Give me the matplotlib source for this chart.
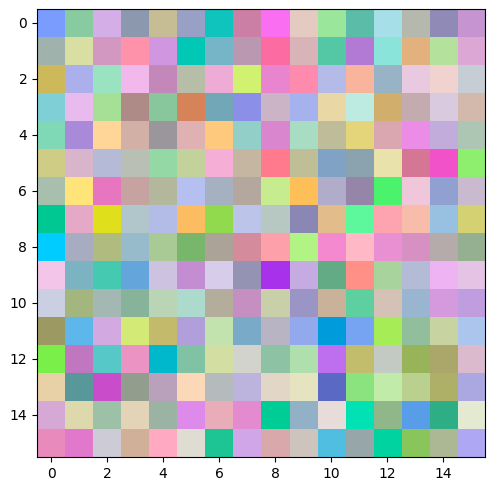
import matplotlib
matplotlib.use("Agg")
import matplotlib.pyplot as plt
import matplotlib.colors as mcolors
import numpy as np

# cell colours, one list per row (top to bottom)
row0 = ["#7a9cff", "#88cba0", "#d4aee6", "#8b98ae", "#c6bd94", "#98a0c6", "#0ec4bd", "#cc7fa4",
        "#fa6ff2", "#e4cac0", "#9ae69b", "#5bbca7", "#a6dfe7", "#b5b9ad", "#8f8ab6", "#c594d1"]
row1 = ["#9fb2ab", "#d9dfa2", "#d398c2", "#fe92ab", "#d097e0", "#00c8b5", "#76b4c7", "#bb98b2",
        "#fd6ba3", "#d8b4b8", "#54c8a4", "#b27ad4", "#8be4d9", "#e2b17e", "#b4e29d", "#dca6d5"]
row2 = ["#cdb85a", "#abb0ed", "#9ae3c0", "#f3b8eb", "#c387b9", "#b7bea8", "#eeabd6", "#d0f270",
        "#e985cf", "#fe8bad", "#b4bbe8", "#f8b49c", "#98b3c5", "#e8c9df", "#f0d3cf", "#c6cdd4"]
row3 = ["#7fcfd6", "#e8baed", "#a6df96", "#ae8b87", "#88c79b", "#d68359", "#71a7b6", "#8b8fe8",
        "#cab4c6", "#a6b2ee", "#ead7a6", "#bdebe2", "#d2ae6c", "#c4abb0", "#dacae0", "#d3b8ac"]
row4 = ["#7fd8b6", "#a98ad9", "#ffd598", "#d3b0a6", "#9a969b", "#dfb1b3", "#fec97c", "#92cfc8",
        "#d986cf", "#a8ddc4", "#bfbd99", "#e4d57b", "#daa7b1", "#eb8de7", "#c1acdb", "#adc6b4"]
row5 = ["#cfcd85", "#d9b5cc", "#b5bbd6", "#babfb5", "#94d9a5", "#c3d29b", "#f5aed5", "#c4b6a0",
        "#fe7a8c", "#bfbe96", "#80a2c4", "#8ba2af", "#e9e2ab", "#d57695", "#f152c9", "#8def6d"]
row6 = ["#a9bfad", "#ffe47a", "#e875bf", "#c6a2a0", "#b3b89c", "#b6c0f0", "#a5b0c1", "#b3a79e",
        "#c7ec90", "#febe58", "#b2accb", "#9585a9", "#4bf26b", "#f0c7da", "#8fa0d1", "#c9bad0"]
row7 = ["#00c892", "#e6a8c7", "#dfe01b", "#b1c6cb", "#b3bce6", "#fcbd62", "#92da4d", "#bcc4ea",
        "#b6c8c1", "#8b87b5", "#e3bc8c", "#5cf89b", "#fea4b1", "#f8bdaa", "#98c0e0", "#d4d172"]
row8 = ["#00ccff", "#a8acc0", "#b0bb80", "#97bbca", "#a9ca94", "#77b66b", "#aba398", "#d48c9c",
        "#fea0aa", "#b2f385", "#f489d0", "#ffb8c5", "#e990d2", "#d691c2", "#b5abab", "#95b091"]
row9 = ["#f3c6e9", "#7bb3c3", "#45cab1", "#64a6db", "#cdc2e0", "#c48dd2", "#d7cdea", "#9593b4",
        "#a831eb", "#c5abe2", "#62ab84", "#fe9088", "#a9d39c", "#b3bbd6", "#edb3f2", "#e5c3e4"]
row10 = ["#cacfe1", "#a3b67d", "#a3b8b2", "#88b39b", "#bad4b6", "#acdacd", "#b4ad9b", "#c68fc1",
         "#c9cfa9", "#9b95c6", "#cab29a", "#5ed09f", "#d4c2b7", "#99b5d0", "#d59ade", "#bf9ddf"]
row11 = ["#9c9a62", "#5db7ea", "#d2a9e1", "#d4ea76", "#c3bb6b", "#b19fdb", "#c2e3ad", "#79abc9",
         "#b9b4c3", "#93a9ee", "#009bdb", "#76a4f2", "#a6ec57", "#91bf9c", "#c7d4a1", "#abc5ec"]
row12 = ["#7bef49", "#c077bf", "#57c8c8", "#eb93c2", "#00b8cc", "#7fc2a4", "#d3dea3", "#d1d3cc",
         "#8ec2a4", "#b0dfae", "#be6ff0", "#c2bd6c", "#c3c9c3", "#98b459", "#aba76a", "#dbbacd"]
row13 = ["#e8d1a6", "#58989a", "#c94dca", "#939d8e", "#b9a1bb", "#fbd8b8", "#b5bbbc", "#bcb4dd",
         "#e2d7c7", "#e6e3c0", "#5a69c4", "#8ae37e", "#c0eba8", "#bad08e", "#adb066", "#aba7e1"]
row14 = ["#d5a8d6", "#ded8ad", "#9cc1a6", "#e3d3b7", "#9bb3a3", "#de8aeb", "#e8adb8", "#e38bce",
         "#00cc95", "#93b1c6", "#e8dcda", "#00e2b3", "#8fb789", "#589de8", "#2eae85", "#e4ead1"]
row15 = ["#e88abc", "#e178cc", "#cdcbd6", "#d1b09a", "#ffa9c2", "#dfdcd1", "#1dc595", "#d1a6e8",
         "#d9a8aa", "#cdc5bd", "#50bee1", "#97a6a8", "#00d3a0", "#88c65b", "#acb893", "#aea7f4"]

rows = [row0, row1, row2, row3, row4, row5, row6, row7,
        row8, row9, row10, row11, row12, row13, row14, row15]
img = np.array([[mcolors.to_rgb(c) for c in r] for r in rows])

fig = plt.figure(figsize=(4.95, 4.91), dpi=100)
ax = fig.add_axes([37 / 495, 34 / 491, 448 / 495, 448 / 491])
ax.imshow(img)

fig.savefig("out.png", dpi=100)
